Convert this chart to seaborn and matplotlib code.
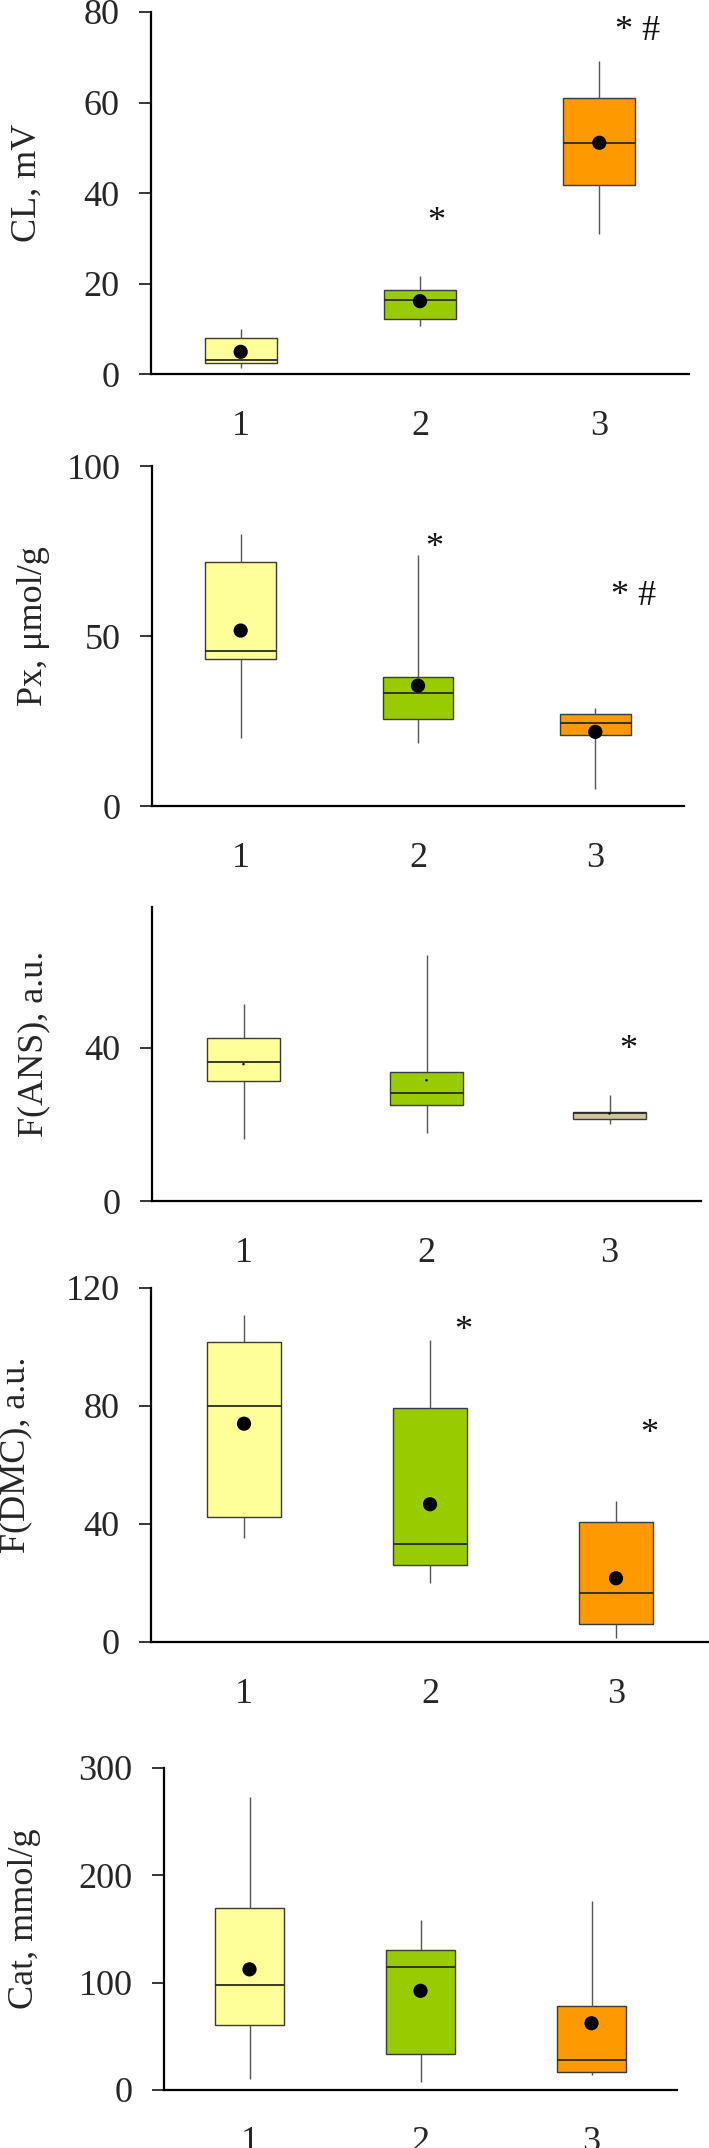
import numpy as np
import pandas as pd
import matplotlib
matplotlib.use("Agg")
import matplotlib.pyplot as plt
import seaborn as sns

# groups on the x axis
groups = ["1", "2", "3"]

# five-number summaries (whisker low, Q1, median, Q3, whisker high) and means
cl_low = [1.3, 10.5, 30.9]
cl_q1 = [2.5, 12.2, 41.7]
cl_med = [3.2, 16.3, 51.0]
cl_q3 = [7.9, 18.6, 61.1]
cl_high = [9.9, 21.7, 69.2]
cl_mean = [4.9, 16.1, 51.1]

px_low = [20.1, 18.6, 5.1]
px_q1 = [43.3, 25.7, 20.8]
px_med = [45.5, 33.2, 24.3]
px_q3 = [71.8, 37.8, 27.1]
px_high = [80.1, 73.9, 28.8]
px_mean = [51.6, 35.4, 21.8]

ans_low = [16.3, 17.8, 20.1]
ans_q1 = [31.4, 25.0, 21.5]
ans_med = [36.2, 28.2, 23.0]
ans_q3 = [42.6, 33.7, 23.2]
ans_high = [51.5, 64.3, 27.7]
ans_mean = [35.7, 31.5, 22.8]

dmc_low = [35.4, 19.9, 1.5]
dmc_q1 = [42.5, 26.2, 6.2]
dmc_med = [79.9, 33.3, 16.6]
dmc_q3 = [101.8, 79.2, 40.8]
dmc_high = [110.8, 102.4, 47.9]
dmc_mean = [74.0, 46.7, 21.6]

cat_low = [10.6, 7.5, 13.7]
cat_q1 = [60.7, 33.3, 16.8]
cat_med = [97.4, 114.8, 28.3]
cat_q3 = [169.9, 130.1, 78.4]
cat_high = [273.3, 158.4, 176.2]
cat_mean = [112.4, 92.4, 62.2]

ylabels = ["CL, mV", "Px, \u03bcmol/g", "F(ANS), a.u.", "F(DMC), a.u.", "Cat, mmol/g"]
yticks = [[0, 20, 40, 60, 80], [0, 50, 100], [0, 40], [0, 40, 80, 120], [0, 100, 200, 300]]
ytops = [80, 100, 76.7, 120, 300]

# significance marks: (group index, y, text)
marks_cl = [(1, 33.4, "*"), (2, 75.6, "* #")]
marks_px = [(1, 75.7, "*"), (2, 61.5, "* #")]
marks_ans = [(2, 39.3, "*")]
marks_dmc = [(1, 105.2, "*"), (2, 70.2, "*")]
marks_cat = []

colors = ["#FFFF99", "#99CC00", "#FF9900"]
colors_ans = ["#FFFF99", "#99CC00", "#CFC49C"]

panels = [
    (cl_low, cl_q1, cl_med, cl_q3, cl_high, cl_mean, marks_cl, colors),
    (px_low, px_q1, px_med, px_q3, px_high, px_mean, marks_px, colors),
    (ans_low, ans_q1, ans_med, ans_q3, ans_high, ans_mean, marks_ans, colors_ans),
    (dmc_low, dmc_q1, dmc_med, dmc_q3, dmc_high, dmc_mean, marks_dmc, colors),
    (cat_low, cat_q1, cat_med, cat_q3, cat_high, cat_mean, marks_cat, colors),
]

# axes rectangles in pixels: left, right, top, bottom
W, H = 709, 2148
rects = [
    (151, 689, 12, 374),
    (152, 684, 466, 806),
    (152, 701, 907, 1201),
    (151, 709, 1288, 1642),
    (164, 677, 1768, 2090),
]
mark_dx = [0.09, 0.09, 0.1, 0.18, 0.1]
dot_size = [105, 105, 3, 105, 105]
ylabel_x = [27, 34, 34, 16, 25]

sns.set_style("white")
plt.rcParams["font.family"] = ["Liberation Serif", "DejaVu Serif"]
FS = 26

fig = plt.figure(figsize=(W / 100, H / 100), dpi=100)

for i, (lo, q1, med, q3, hi, mean, marks, pal) in enumerate(panels):
    l, r, t, b = rects[i]
    ax = fig.add_axes([l / W, 1 - b / H, (r - l) / W, (b - t) / H])

    rows = []
    for g, vals in zip(groups, zip(lo, q1, med, q3, hi)):
        for v in vals:
            rows.append({"group": g, "value": v})
    df = pd.DataFrame(rows)

    sns.boxplot(data=df, x="group", y="value", hue="group", palette=pal,
                order=groups, hue_order=groups, width=0.4, whis=(0, 100),
                saturation=1, showcaps=False, showfliers=False, legend=False,
                boxprops=dict(edgecolor="#3a3a3a", linewidth=1.0),
                medianprops=dict(color="#2a2a2a", linewidth=1.3),
                whiskerprops=dict(color="#555555", linewidth=1.0),
                ax=ax)

    dm = pd.DataFrame({"group": groups, "mean": mean})
    sns.scatterplot(data=dm, x="group", y="mean", color="black", s=dot_size[i],
                    edgecolor="none", zorder=5, ax=ax, legend=False)

    for gi, y, txt in marks:
        ax.text(gi + mark_dx[i], y, txt, ha="left" if len(txt) > 1 else "center",
                va="center", fontsize=FS, color="#111111")

    ax.set_xlim(-0.5, 2.5)
    ax.set_ylim(0, ytops[i])
    ax.set_yticks(yticks[i])
    ax.set_xlabel("")
    ax.set_ylabel("")
    fig.text(ylabel_x[i] / W, 1 - ((t + b) / 2 - 10) / H, ylabels[i], rotation=90,
             ha="center", va="center", fontsize=FS)

    for s in ["top", "right"]:
        ax.spines[s].set_visible(False)
    for s in ["left", "bottom"]:
        ax.spines[s].set_linewidth(1.6)
        ax.spines[s].set_color("black")
    ax.tick_params(axis="y", length=8.5, width=1.3, pad=14, labelsize=FS, direction="out", left=True)
    ax.tick_params(axis="x", length=0, pad=26, labelsize=FS)
    ax.set_facecolor("white")

fig.savefig("out.png", dpi=100, facecolor="white")
